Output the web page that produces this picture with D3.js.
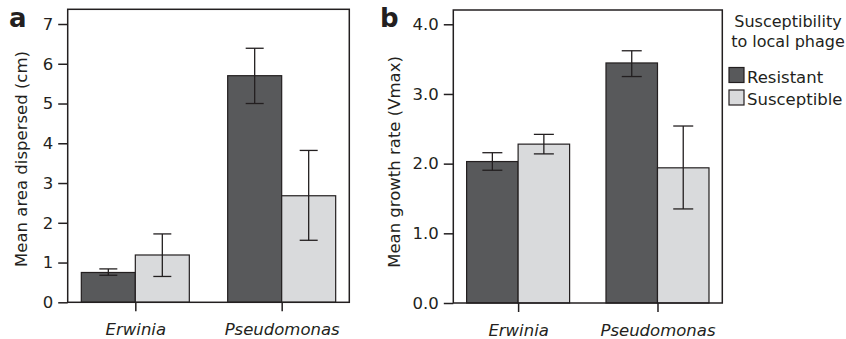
<!DOCTYPE html>
<html><head><meta charset="utf-8">
<script src="https://cdn.jsdelivr.net/npm/d3@7"></script>
<style>body{margin:0;background:#fff}text{font-family:"DejaVu Sans",sans-serif;fill:#231f20}</style>
</head><body><svg id="c" width="846" height="339"></svg>
<script>
const categories = ["Erwinia", "Pseudomonas"];
const seriesNames = ["Resistant", "Susceptible"];
// Panel a: Mean area dispersed (cm)
const areaMean = [[0.75, 1.19], [5.70, 2.68]];
const areaLow  = [[0.68, 0.65], [5.00, 1.56]];
const areaHigh = [[0.84, 1.72], [6.39, 3.82]];
const areaTicks = [0, 1, 2, 3, 4, 5, 6, 7];
// Panel b: Mean growth rate (Vmax)
const rateMean = [[2.03, 2.28], [3.445, 1.94]];
const rateLow  = [[1.905, 2.14], [3.25, 1.35]];
const rateHigh = [[2.157, 2.42], [3.62, 2.54]];
const rateTicks = [0, 1, 2, 3, 4];
const colors = ["#58595b", "#d9dadc"];

const svg = d3.select("#c");
const ink = "#231f20";

function panel(o) {
  const g = svg.append("g");
  const y = d3.scaleLinear().domain([0, o.ymax]).range([o.bottom, o.top]);
  const x = d3.scalePoint().domain(categories).range([o.left, o.right]).padding(o.pad);
  // bars
  categories.forEach((c, ci) => {
    seriesNames.forEach((s, si) => {
      const x0 = si === 0 ? x(c) - o.bw : x(c);
      g.append("rect").attr("x", x0).attr("y", y(o.mean[ci][si]))
        .attr("width", o.bw).attr("height", y(0) - y(o.mean[ci][si]))
        .attr("fill", colors[si]).attr("stroke", ink).attr("stroke-width", 1.2);
      const cx = x0 + o.bw / 2;
      const eb = g.append("g").attr("stroke", ink).attr("stroke-width", 1.3);
      eb.append("line").attr("x1", cx).attr("x2", cx).attr("y1", y(o.low[ci][si])).attr("y2", y(o.high[ci][si]));
      [o.low[ci][si], o.high[ci][si]].forEach(v => {
        eb.append("line").attr("x1", cx - o.cap / 2).attr("x2", cx + o.cap / 2).attr("y1", y(v)).attr("y2", y(v));
      });
    });
  });
  // frame
  g.append("rect").attr("x", o.left).attr("y", o.top).attr("width", o.right - o.left)
    .attr("height", o.bottom - o.top).attr("fill", "none").attr("stroke", ink).attr("stroke-width", 1.5);
  // y axis
  const ya = g.append("g").attr("transform", `translate(${o.left},0)`)
    .call(d3.axisLeft(y).tickValues(o.ticks).tickFormat(o.fmt).tickSize(9.5).tickPadding(5));
  ya.select(".domain").remove();
  ya.selectAll("line").attr("stroke", ink).attr("stroke-width", 1.5);
  ya.selectAll("text").style("font-size", "16.5px").style("font-family", '"DejaVu Sans",sans-serif').attr("fill", ink);
  // x axis
  const xa = g.append("g").attr("transform", `translate(0,${o.bottom})`)
    .call(d3.axisBottom(x).tickSize(9).tickPadding(12));
  xa.select(".domain").remove();
  xa.selectAll("line").attr("stroke", ink).attr("stroke-width", 1.5);
  xa.selectAll("text").style("font-size", "16.5px").style("font-style", "italic")
    .style("font-family", '"DejaVu Sans",sans-serif').attr("fill", ink);
  // y title
  g.append("text").attr("transform", `translate(${o.tx},${o.ty}) rotate(-90)`)
    .attr("text-anchor", "middle").style("font-size", "16.5px").text(o.title);
  // panel letter
  g.append("text").attr("x", o.lx).attr("y", 27).style("font-size", "26px")
    .style("font-weight", "bold").text(o.letter);
}

panel({left: 67.7, right: 349.3, top: 9.3, bottom: 302.3, ymax: 7.37, pad: 0.462, bw: 54, cap: 18,
  mean: areaMean, low: areaLow, high: areaHigh, ticks: areaTicks, fmt: d3.format("d"),
  title: "Mean area dispersed (cm)", tx: 27, ty: 159, letter: "a", lx: 9});
panel({left: 453.3, right: 722.3, top: 10, bottom: 303, ymax: 4.205, pad: 0.465, bw: 51.5, cap: 20,
  mean: rateMean, low: rateLow, high: rateHigh, ticks: rateTicks, fmt: d3.format(".1f"),
  title: "Mean growth rate (Vmax)", tx: 400, ty: 162, letter: "b", lx: 380});

// legend
const lg = svg.append("g");
lg.append("text").attr("x", 788).attr("y", 27).attr("text-anchor", "middle").style("font-size", "16px").text("Susceptibility");
lg.append("text").attr("x", 788).attr("y", 47).attr("text-anchor", "middle").style("font-size", "16px").text("to local phage");
seriesNames.forEach((s, i) => {
  lg.append("rect").attr("x", 729).attr("y", 67.5 + i * 22.5).attr("width", 15).attr("height", 15)
    .attr("fill", colors[i]).attr("stroke", ink).attr("stroke-width", 1.2);
  lg.append("text").attr("x", 747).attr("y", 82.5 + i * 22.5).style("font-size", "16.5px").text(s);
});
</script></body></html>
